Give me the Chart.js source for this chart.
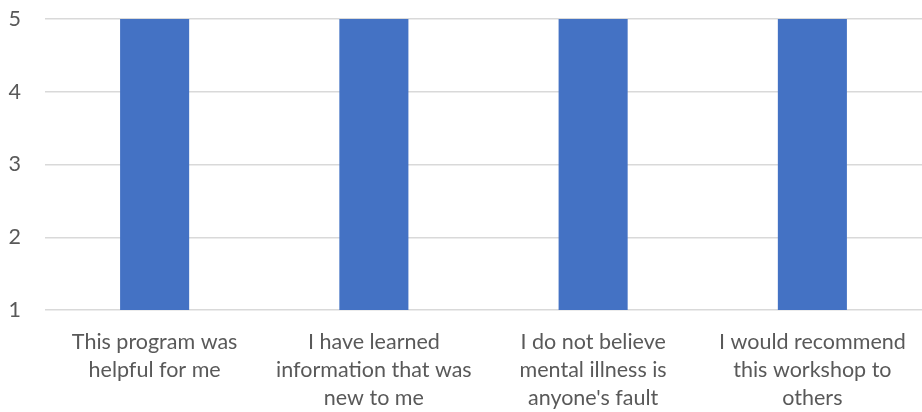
<!DOCTYPE html>
<html><head><meta charset="utf-8">
<script src="https://cdn.jsdelivr.net/npm/chart.js@4/dist/chart.umd.min.js"></script>
<style>html,body{margin:0;padding:0;background:#fff}#wrap{width:922px;height:412px}</style>
</head><body><div id="wrap"><canvas id="c"></canvas></div>
<script>
const categories = [
  ["This program was", "helpful for me"],
  ["I have learned", "information that was", "new to me"],
  ["I do not believe", "mental illness is", "anyone's fault"],
  ["I would recommend", "this workshop to", "others"]
];
const values = [5, 5, 5, 5];
const yTicks = [1, 2, 3, 4, 5];

const FONT = "Lato, 'Open Sans', sans-serif";
new Chart(document.getElementById('c'), {
  type: 'bar',
  data: { labels: categories, datasets: [{ data: values, backgroundColor: '#4472C4', borderWidth: 0, barPercentage: 0.315, categoryPercentage: 1 }] },
  options: {
    responsive: true, maintainAspectRatio: false, animation: false,
    devicePixelRatio: 1,
    layout: { padding: 0 },
    plugins: { legend: { display: false }, tooltip: { enabled: false } },
    scales: {
      x: {
        grid: { display: false, drawTicks: false },
        border: { display: false },
        ticks: { color: '#595959', font: { family: FONT, size: 21.5, lineHeight: 1.3 }, padding: 18, maxRotation: 0, autoSkip: false },
        afterFit: s => { s.height = 102; s.paddingLeft = 0; s.paddingRight = 0; }
      },
      y: {
        min: 1, max: 5,
        afterBuildTicks: s => { s.ticks = yTicks.map(v => ({ value: v })); },
        grid: { color: '#d9d9d9', lineWidth: 1.5, drawTicks: false },
        border: { display: false },
        ticks: { color: '#595959', font: { family: FONT, size: 21.5 }, padding: 24 },
        afterFit: s => { s.width = 45; s.paddingTop = 19; s.paddingBottom = 0; }
      }
    }
  }
});
</script></body></html>
